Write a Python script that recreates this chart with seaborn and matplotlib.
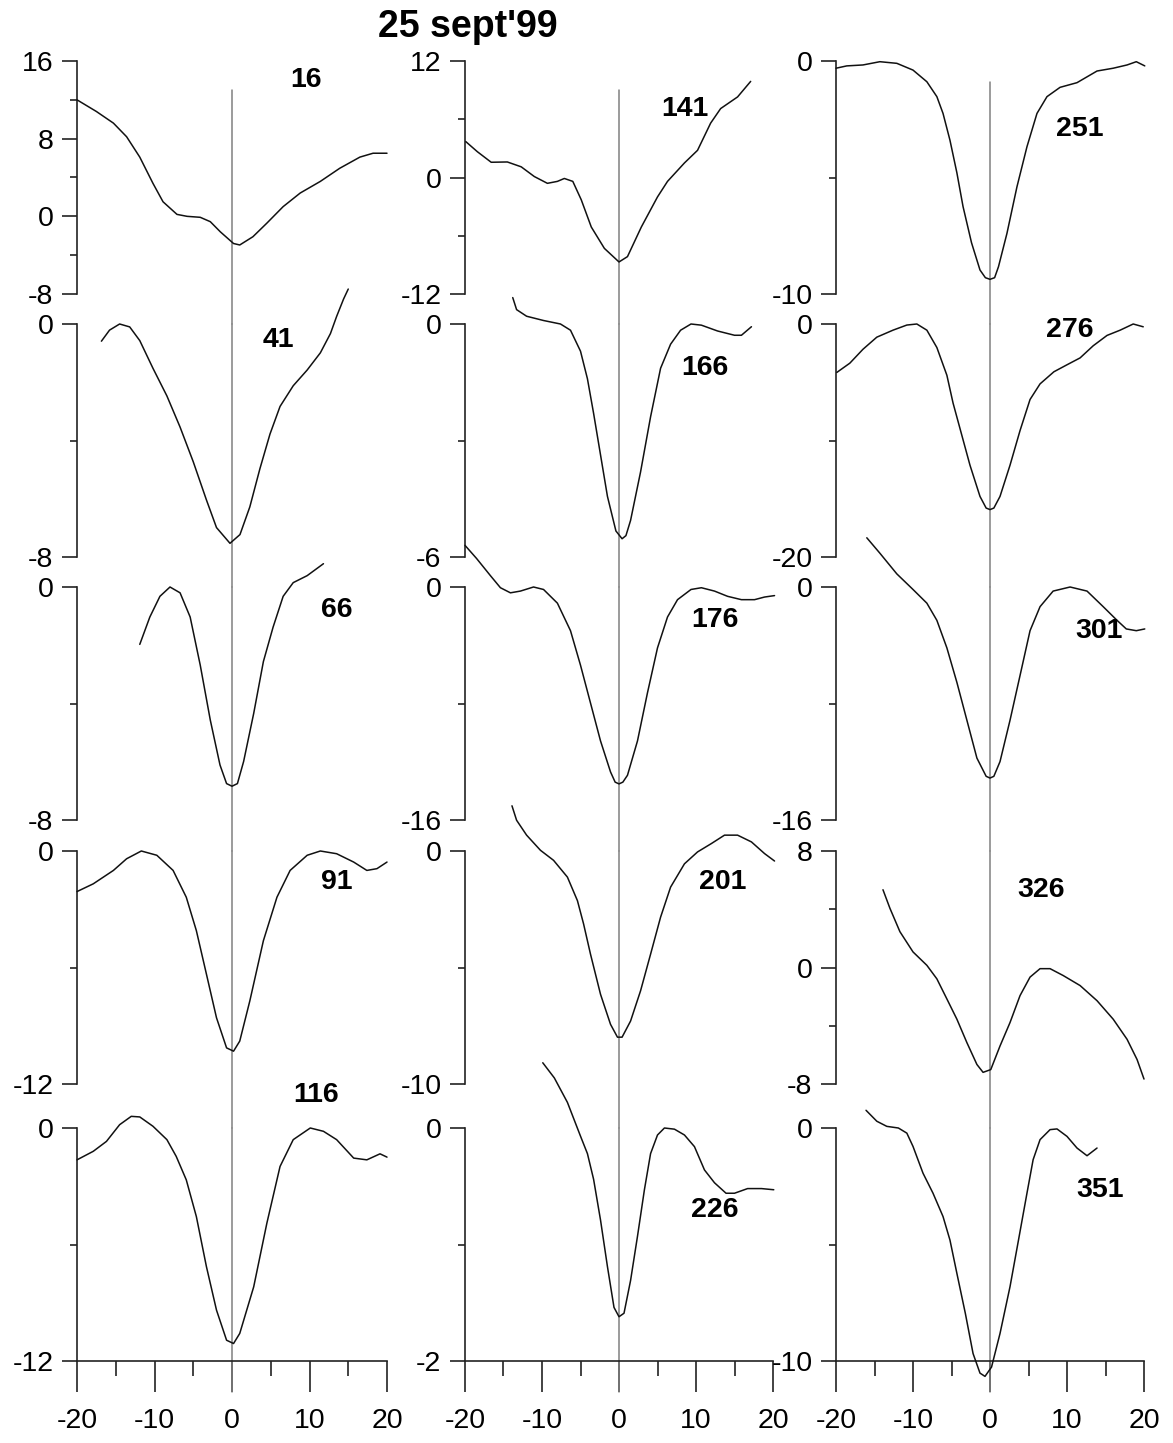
import matplotlib
matplotlib.use("Agg")
import matplotlib.pyplot as plt
import seaborn as sns
from matplotlib.ticker import FixedLocator

# ---- profiles: lag (x) and value (y) for each direction ----
x_16 = [-20, -17.5, -15.3, -13.6, -11.9, -10.2, -8.9, -7.1, -5.8, -4.1, -2.8, -1.5, 0.2, 1.0, 2.7, 4.5, 6.6, 8.8, 11.4, 13.9, 16.5, 18.2, 20]
y_16 = [12.0, 10.8, 9.6, 8.2, 6.1, 3.4, 1.5, 0.2, 0.0, -0.1, -0.55, -1.6, -2.8, -2.95, -2.1, -0.7, 1.0, 2.4, 3.6, 4.95, 6.1, 6.5, 6.5]

x_141 = [-19.9, -18.4, -16.6, -14.5, -12.7, -11.0, -9.3, -8.0, -7.1, -6.0, -4.9, -3.6, -1.9, 0.0, 1.1, 2.9, 5.0, 6.3, 8.5, 10.2, 11.9, 13.2, 15.4, 17.1]
y_141 = [3.7, 2.66, 1.57, 1.6, 1.1, 0.1, -0.6, -0.4, -0.1, -0.4, -2.3, -5.1, -7.3, -8.7, -8.15, -5.1, -2.0, -0.4, 1.5, 2.8, 5.6, 7.1, 8.3, 9.9]

x_251 = [-20, -18.6, -16.5, -14.3, -12.1, -10.0, -8.2, -6.9, -6.1, -5.2, -4.3, -3.5, -2.4, -1.3, -0.6, 0, 0.6, 1.1, 2.2, 3.5, 4.8, 6.1, 7.4, 9.1, 11.3, 13.9, 16.0, 17.8, 19.0, 20.1]
y_251 = [-0.31, -0.21, -0.17, -0.03, -0.1, -0.39, -0.89, -1.53, -2.25, -3.4, -4.8, -6.25, -7.8, -8.97, -9.3, -9.37, -9.3, -8.83, -7.4, -5.4, -3.68, -2.25, -1.53, -1.13, -0.93, -0.43, -0.31, -0.17, -0.03, -0.21]

x_41 = [-16.85, -15.8, -14.5, -13.2, -11.9, -10.2, -8.4, -6.7, -5.0, -3.3, -2.0, -0.26, 1.03, 2.3, 3.6, 4.9, 6.2, 7.9, 9.7, 11.4, 12.7, 13.5, 14.4, 15.0]
y_41 = [-0.59, -0.21, 0.0, -0.1, -0.57, -1.52, -2.47, -3.54, -4.73, -6.04, -6.99, -7.53, -7.23, -6.28, -4.97, -3.78, -2.83, -2.12, -1.58, -0.99, -0.33, 0.26, 0.86, 1.2]

x_166 = [-13.8, -13.3, -12.0, -9.8, -7.6, -6.3, -5.0, -4.1, -3.3, -2.4, -1.5, -0.4, 0.4, 0.9, 1.5, 2.8, 4.1, 5.4, 6.7, 8.0, 9.35, 10.7, 12.8, 15.0, 15.9, 17.2]
y_166 = [0.68, 0.37, 0.2, 0.09, 0.0, -0.16, -0.7, -1.41, -2.3, -3.37, -4.44, -5.33, -5.53, -5.45, -5.06, -3.81, -2.39, -1.14, -0.52, -0.16, 0.0, -0.03, -0.18, -0.29, -0.29, -0.07]

x_276 = [-19.9, -18.2, -16.5, -14.7, -12.6, -10.8, -9.5, -8.2, -6.9, -5.6, -4.8, -3.7, -2.6, -1.3, -0.5, 0, 0.5, 1.3, 2.6, 3.9, 5.2, 6.5, 8.3, 10.0, 11.7, 13.4, 15.2, 16.9, 18.6, 19.9]
y_276 = [-4.16, -3.36, -2.17, -1.13, -0.53, -0.09, 0.0, -0.53, -2.02, -4.4, -6.78, -9.45, -12.12, -14.8, -15.8, -15.93, -15.8, -14.8, -12.12, -9.15, -6.48, -5.14, -4.1, -3.5, -2.91, -1.87, -0.98, -0.53, 0.0, -0.24]

x_66 = [-11.9, -10.6, -9.3, -8.0, -6.7, -5.4, -4.1, -2.8, -1.55, -0.7, 0, 0.7, 1.5, 2.8, 4.05, 5.3, 6.6, 7.9, 9.7, 11.8]
y_66 = [-1.97, -1.03, -0.32, 0.0, -0.2, -1.03, -2.68, -4.57, -6.11, -6.75, -6.84, -6.75, -5.99, -4.34, -2.56, -1.38, -0.32, 0.15, 0.39, 0.8]

x_176 = [-20, -18.5, -16.7, -15.4, -14.1, -12.8, -11.1, -9.8, -8.0, -6.3, -5.0, -3.7, -2.4, -1.1, -0.5, 0, 0.5, 1.1, 2.4, 3.7, 5.0, 6.3, 7.6, 9.35, 10.7, 12.4, 14.1, 15.9, 17.6, 18.9, 20.2]
y_176 = [2.86, 1.96, 0.78, -0.05, -0.4, -0.28, 0.0, -0.17, -1.11, -3.0, -5.37, -7.97, -10.57, -12.7, -13.4, -13.52, -13.4, -12.93, -10.57, -7.26, -4.18, -2.06, -0.87, -0.17, -0.05, -0.28, -0.64, -0.87, -0.87, -0.69, -0.59]

x_301 = [-16.0, -14.3, -12.1, -10.0, -8.2, -6.9, -5.6, -4.3, -3.0, -1.7, -0.5, 0, 0.5, 1.3, 2.6, 3.9, 5.2, 6.5, 8.2, 10.4, 12.6, 14.7, 16.5, 17.7, 19.0, 20.1]
y_301 = [3.38, 2.32, 0.9, -0.17, -1.11, -2.29, -4.18, -6.55, -9.15, -11.75, -13.0, -13.12, -13.0, -11.99, -9.15, -6.08, -3.0, -1.35, -0.28, 0.0, -0.28, -1.35, -2.29, -2.88, -3.0, -2.88]

x_91 = [-20, -17.9, -15.3, -13.6, -11.7, -9.7, -7.6, -5.9, -4.6, -3.3, -2.0, -0.7, 0.2, 1.0, 2.3, 4.05, 5.8, 7.5, 9.7, 11.4, 13.5, 15.7, 17.4, 18.7, 20]
y_91 = [-2.09, -1.69, -1.0, -0.4, 0.0, -0.22, -1.0, -2.38, -4.1, -6.34, -8.59, -10.14, -10.31, -9.79, -7.72, -4.62, -2.38, -1.0, -0.22, 0.0, -0.14, -0.57, -1.0, -0.91, -0.57]

x_201 = [-13.9, -13.3, -12.0, -10.2, -8.5, -6.7, -5.4, -4.6, -3.7, -2.4, -1.1, -0.2, 0.4, 1.5, 2.8, 4.1, 5.4, 6.7, 8.5, 10.2, 12.0, 13.7, 15.4, 17.2, 18.9, 20.2]
y_201 = [1.94, 1.32, 0.68, 0.03, -0.4, -1.12, -2.13, -3.13, -4.43, -6.15, -7.44, -7.99, -7.99, -7.3, -6.0, -4.43, -2.84, -1.55, -0.55, -0.04, 0.32, 0.68, 0.68, 0.39, -0.11, -0.43]

x_326 = [-13.9, -13.0, -11.7, -10.0, -8.2, -6.9, -5.6, -4.3, -3.0, -1.7, -0.9, 0.1, 1.3, 2.6, 3.9, 5.2, 6.5, 7.8, 9.5, 11.7, 13.9, 16.0, 17.8, 19.1, 20.0]
y_326 = [5.34, 4.07, 2.46, 1.07, 0.15, -0.78, -2.16, -3.55, -5.16, -6.66, -7.2, -7.01, -5.39, -3.78, -1.93, -0.66, -0.08, -0.08, -0.55, -1.24, -2.28, -3.55, -4.93, -6.32, -7.66]

x_116 = [-20, -17.9, -16.2, -14.5, -13.0, -11.9, -10.2, -8.4, -7.2, -5.9, -4.6, -3.3, -2.0, -0.7, 0.2, 1.0, 2.8, 4.5, 6.2, 7.9, 10.1, 11.8, 13.5, 15.7, 17.4, 19.1, 20]
y_116 = [-1.64, -1.2, -0.69, 0.17, 0.6, 0.57, 0.09, -0.6, -1.46, -2.67, -4.56, -7.14, -9.38, -10.93, -11.1, -10.58, -8.18, -4.9, -1.98, -0.6, 0.0, -0.17, -0.6, -1.55, -1.64, -1.33, -1.5]

x_226 = [-9.9, -8.4, -6.7, -5.0, -4.1, -3.3, -2.4, -1.5, -0.65, 0, 0.65, 1.5, 2.4, 3.3, 4.1, 5.0, 5.9, 7.2, 8.5, 9.8, 11.1, 12.4, 13.9, 15.0, 16.7, 18.5, 20.1]
y_226 = [0.56, 0.43, 0.22, -0.07, -0.22, -0.44, -0.79, -1.19, -1.54, -1.62, -1.59, -1.31, -0.93, -0.53, -0.22, -0.06, 0.0, -0.01, -0.06, -0.16, -0.36, -0.47, -0.56, -0.56, -0.52, -0.52, -0.53]

x_351 = [-16.1, -14.7, -13.4, -11.9, -10.8, -10.0, -8.7, -7.4, -6.1, -5.2, -4.3, -3.2, -2.2, -1.3, -0.65, 0.2, 1.3, 2.6, 3.7, 4.8, 5.6, 6.5, 7.8, 8.7, 10.0, 11.3, 12.6, 13.9]
y_351 = [0.76, 0.29, 0.07, 0.0, -0.22, -0.79, -1.94, -2.8, -3.8, -4.81, -6.24, -7.96, -9.68, -10.52, -10.66, -10.26, -8.82, -6.81, -4.81, -2.8, -1.36, -0.5, -0.07, -0.04, -0.36, -0.86, -1.19, -0.86]

# panel titles, laid out column by column (3 columns x 5 rows)
panel_names = [["16", "41", "66", "91", "116"],
               ["141", "166", "176", "201", "226"],
               ["251", "276", "301", "326", "351"]]
panel_x = {"16": x_16, "41": x_41, "66": x_66, "91": x_91, "116": x_116,
           "141": x_141, "166": x_166, "176": x_176, "201": x_201, "226": x_226,
           "251": x_251, "276": x_276, "301": x_301, "326": x_326, "351": x_351}
panel_y = {"16": y_16, "41": y_41, "66": y_66, "91": y_91, "116": y_116,
           "141": y_141, "166": y_166, "176": y_176, "201": y_201, "226": y_226,
           "251": y_251, "276": y_276, "301": y_301, "326": y_326, "351": y_351}
# y range (bottom, top), labelled ticks, unlabelled ticks
y_range = {"16": (-8, 16), "41": (-8, 0), "66": (-8, 0), "91": (-12, 0), "116": (-12, 0),
           "141": (-12, 12), "166": (-6, 0), "176": (-16, 0), "201": (-10, 0), "226": (-2, 0),
           "251": (-10, 0), "276": (-20, 0), "301": (-16, 0), "326": (-8, 8), "351": (-10, 0)}
y_major = {"16": [16, 8, 0, -8], "141": [12, 0, -12], "326": [8, 0, -8]}
y_minor = {"16": [12, 4, -4], "141": [6, -6], "326": [4, -4]}
# where each panel's number is written (data coordinates)
label_pos = {"16": (9.6, 14.0), "41": (6.0, -0.55), "66": (13.5, -0.8), "91": (13.5, -1.6),
             "116": (10.9, 1.72), "141": (8.5, 7.1), "166": (11.1, -1.14), "176": (12.4, -2.3),
             "201": (13.5, -1.34), "226": (12.4, -0.7), "251": (11.7, -2.9), "276": (10.4, -0.53),
             "301": (14.1, -3.0), "326": (6.7, 5.34), "351": (14.3, -2.65)}
x_major = [-20, -10, 0, 10, 20]
x_minor = [-15, -5, 5, 15]
title = "25 sept'99"

# ---- layout (pixels on a 1173 x 1443 canvas) ----
W, H = 1173, 1443
col_left = [77, 465, 836]
col_width = [310, 308, 308]
row_top = [61, 324, 587, 851, 1128]
panel_h = 233

sns.set_theme(style="white")
plt.rcParams["font.family"] = ["Liberation Sans", "DejaVu Sans"]
plt.rcParams["axes.unicode_minus"] = False

fig = plt.figure(figsize=(W / 100, H / 100), dpi=100)
fig.patch.set_facecolor("white")

line_col = "#111111"
axis_col = "#222222"
zero_col = "#808080"

for c in range(3):
    for r in range(5):
        name = panel_names[c][r]
        left = col_left[c] / W
        bottom = 1 - (row_top[r] + panel_h) / H
        ax = fig.add_axes([left, bottom, col_width[c] / W, panel_h / H])
        ax.set_facecolor("none")
        lo, hi = y_range[name]
        ax.set_xlim(-20, 20)
        ax.set_ylim(lo, hi)

        # zero-lag reference line running down through the column
        if r == 0:
            ymax = 0.91 if c == 2 else 0.875
        else:
            ymax = 1.0
        if r < 4:
            gap = row_top[r + 1] - (row_top[r] + panel_h)
            ymin = -gap / panel_h
        else:
            ymin = -31 / panel_h
        ax.axvline(0, ymin=ymin, ymax=ymax, color=zero_col, lw=1.1,
                   clip_on=False, zorder=1)

        sns.lineplot(x=panel_x[name], y=panel_y[name], ax=ax, color=line_col,
                     lw=1.1, sort=False, estimator=None, zorder=3)
        for ln in ax.lines:
            ln.set_clip_on(False)
            ln.set_solid_joinstyle("round")
            ln.set_solid_capstyle("round")

        for s in ["top", "right"]:
            ax.spines[s].set_visible(False)
        ax.spines["left"].set_color(axis_col)
        ax.spines["left"].set_linewidth(1.2)

        majors = y_major.get(name, [hi, lo])
        minors = y_minor.get(name, [(hi + lo) / 2])
        ax.yaxis.set_major_locator(FixedLocator(majors))
        ax.yaxis.set_minor_locator(FixedLocator(minors))
        ax.set_yticklabels([str(v) for v in majors])
        ax.tick_params(axis="y", which="major", direction="out", length=11,
                       width=1.2, color=axis_col, pad=6, labelsize=20.5,
                       labelcolor="black", left=True)
        ax.tick_params(axis="y", which="minor", direction="out", length=5,
                       width=1.2, color=axis_col, left=True)

        if r == 4:
            ax.spines["bottom"].set_visible(True)
            ax.spines["bottom"].set_color(axis_col)
            ax.spines["bottom"].set_linewidth(1.2)
            ax.xaxis.set_major_locator(FixedLocator(x_major))
            ax.xaxis.set_minor_locator(FixedLocator(x_minor))
            ax.set_xticklabels([str(v) for v in x_major])
            ax.tick_params(axis="x", which="major", direction="out", length=22,
                           width=1.2, color=axis_col, pad=12, labelsize=20.5,
                           labelcolor="black", bottom=True)
            ax.tick_params(axis="x", which="minor", direction="out", length=11,
                           width=1.2, color=axis_col, bottom=True)
        else:
            ax.spines["bottom"].set_visible(False)
            ax.set_xticks([])

        ax.set_xlabel("")
        ax.set_ylabel("")
        ax.grid(False)

        lx, ly = label_pos[name]
        ax.text(lx, ly, name, ha="center", va="center", fontsize=20.5,
                fontweight="bold", color="black", clip_on=False, zorder=4)

fig.text(468 / W, 1 - 27 / H, title, ha="center", va="center",
         fontsize=27, fontweight="bold", color="black")

fig.savefig("out.png", dpi=100, facecolor="white")
